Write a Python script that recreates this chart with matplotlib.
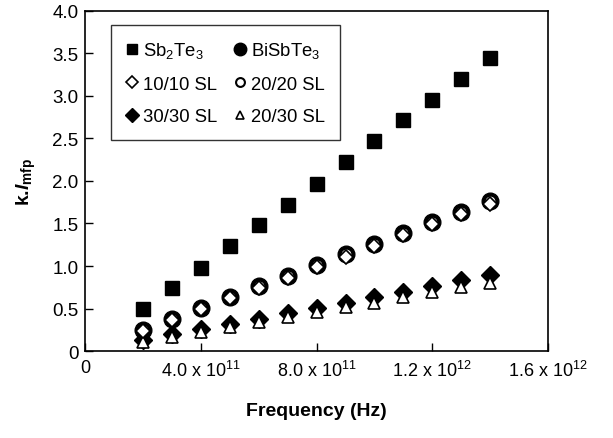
import matplotlib
matplotlib.use("Agg")
import matplotlib.pyplot as plt

plt.rcParams['font.family'] = ['Liberation Sans', 'DejaVu Sans']
plt.rcParams['mathtext.fontset'] = 'custom'
plt.rcParams['mathtext.rm'] = 'Liberation Sans'
plt.rcParams['mathtext.bf'] = 'Liberation Sans:bold'
plt.rcParams['mathtext.it'] = 'Liberation Sans:bold:italic'

freq = [2e11, 3e11, 4e11, 5e11, 6e11, 7e11, 8e11, 9e11, 1.0e12, 1.1e12, 1.2e12, 1.3e12, 1.4e12]
sb2te3 = [0.49, 0.74, 0.98, 1.23, 1.48, 1.72, 1.97, 2.22, 2.47, 2.72, 2.95, 3.20, 3.44]
bisbte3 = [0.25, 0.38, 0.51, 0.63, 0.76, 0.88, 1.01, 1.14, 1.26, 1.39, 1.52, 1.64, 1.77]
sl10_10 = [0.24, 0.37, 0.50, 0.62, 0.74, 0.86, 0.99, 1.11, 1.24, 1.36, 1.49, 1.61, 1.73]
sl20_20 = [0.25, 0.38, 0.51, 0.63, 0.76, 0.88, 1.01, 1.14, 1.26, 1.39, 1.52, 1.64, 1.77]
sl30_30 = [0.13, 0.20, 0.26, 0.32, 0.38, 0.45, 0.51, 0.57, 0.64, 0.70, 0.76, 0.83, 0.89]
sl20_30 = [0.11, 0.17, 0.23, 0.28, 0.34, 0.40, 0.46, 0.52, 0.57, 0.63, 0.69, 0.75, 0.80]

xticks = [0, 4e11, 8e11, 1.2e12, 1.6e12]
xticklabels = ['0', r'4.0 x 10$^{11}$', r'8.0 x 10$^{11}$', r'1.2 x 10$^{12}$', r'1.6 x 10$^{12}$']
yticks = [0, 0.5, 1.0, 1.5, 2.0, 2.5, 3.0, 3.5, 4.0]
yticklabels = ['0', '0.5', '1.0', '1.5', '2.0', '2.5', '3.0', '3.5', '4.0']

fig = plt.figure(figsize=(6.13, 4.39), dpi=100)
ax = fig.add_axes([0.139, 0.198, 0.755, 0.775])

h_sb, = ax.plot(freq, sb2te3, 's', color='black', markersize=10.5, label=r'Sb$_2$Te$_3$', zorder=3)
h_bi, = ax.plot(freq, bisbte3, 'o', color='black', markersize=12, label=r'BiSbTe$_3$', zorder=3)
h_2020, = ax.plot(freq, sl20_20, 'o', mfc='white', mec='black', mew=1.5, markersize=8.5, label='20/20 SL', zorder=4)
h_1010, = ax.plot(freq, sl10_10, 'D', mfc='white', mec='black', mew=1.2, markersize=7.5, label='10/10 SL', zorder=5)
h_3030, = ax.plot(freq, sl30_30, 'D', color='black', markersize=9.5, label='30/30 SL', zorder=3)
h_2030, = ax.plot(freq, sl20_30, '^', mfc='white', mec='black', mew=1.2, markersize=8.5, label='20/30 SL', zorder=4)

ax.set_xlim(0, 1.6e12)
ax.set_ylim(0, 4.0)
ax.set_xticks(xticks)
ax.set_xticklabels(xticklabels, fontsize=13)
ax.set_yticks(yticks)
ax.set_yticklabels(yticklabels, fontsize=13.5)
ax.tick_params(direction='in', length=6, width=1, top=False, right=False)
ax.tick_params(axis='x', pad=6)
ax.tick_params(axis='y', pad=5)
for s in ax.spines.values():
    s.set_linewidth(1.2)

ax.set_xlabel('Frequency (Hz)', fontsize=14, fontweight='bold', labelpad=16)
ax.set_ylabel(r'k.$\mathit{l}_{\mathbf{mfp}}$', fontsize=14, fontweight='bold', labelpad=10)

handles = [h_sb, h_1010, h_3030, h_bi, h_2020, h_2030]
leg = ax.legend(handles=handles, ncol=2, loc='upper left', bbox_to_anchor=(0.035, 0.985),
                fontsize=13.3, frameon=True, fancybox=False, edgecolor='black',
                handlelength=0.7, handletextpad=0.25, columnspacing=0.9,
                labelspacing=0.85, borderpad=0.8, markerscale=0.75)
leg.get_frame().set_linewidth(1.0)

fig.savefig('out.png', dpi=100)
